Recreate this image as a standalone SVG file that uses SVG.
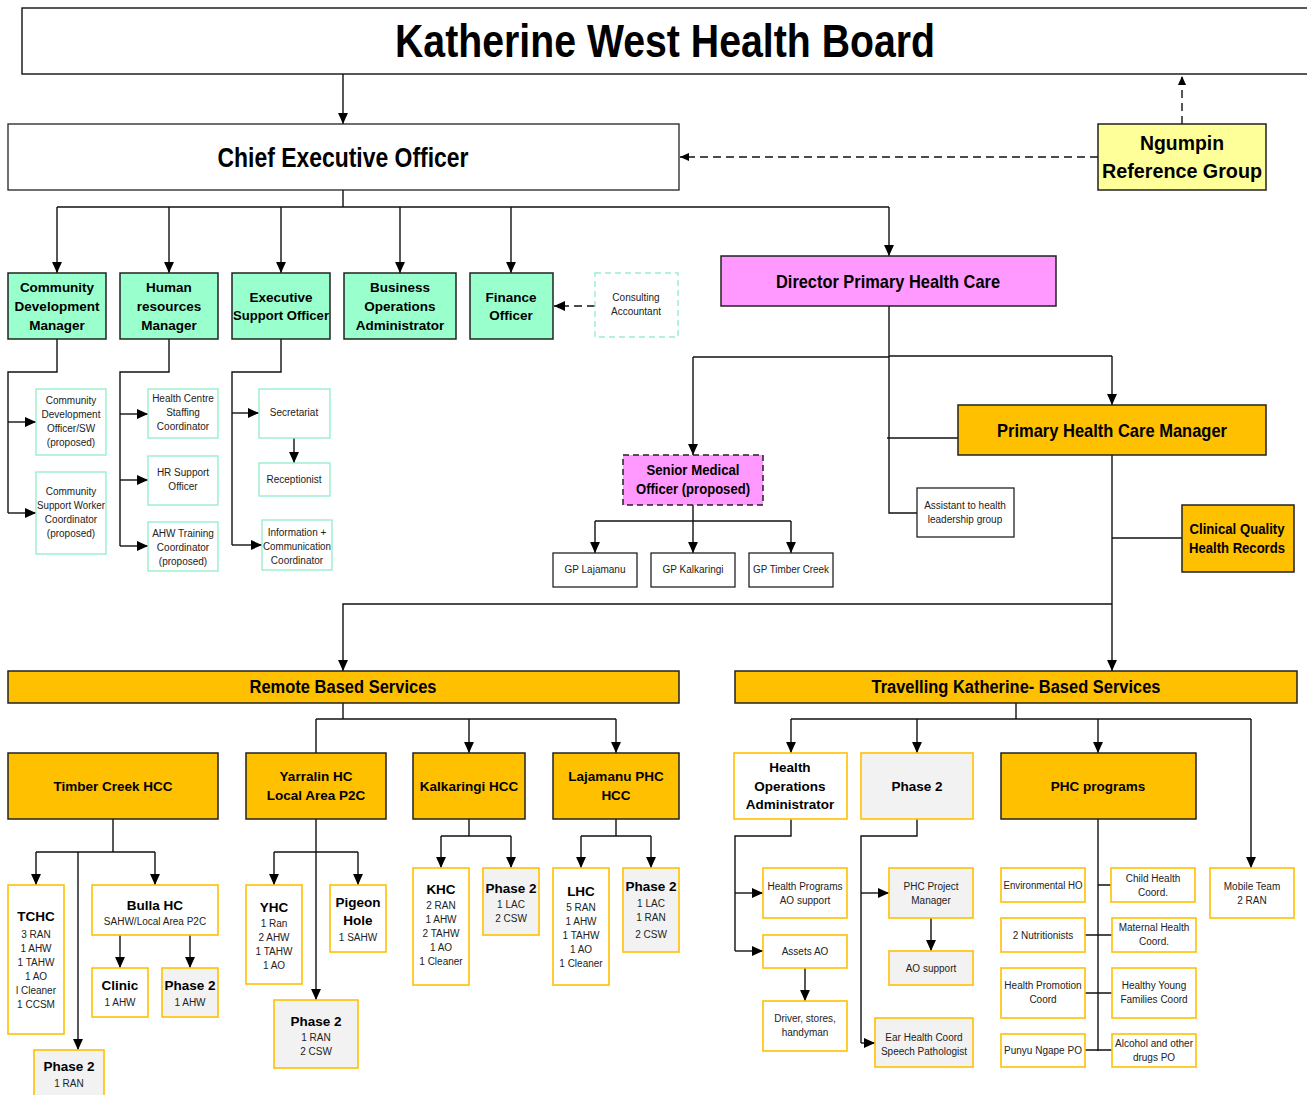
<svg xmlns="http://www.w3.org/2000/svg" width="1307" height="1095" viewBox="0 0 1307 1095">
<style>
.c{fill:none;stroke:#111;stroke-width:1.4}
.d{fill:none;stroke:#111;stroke-width:1.4;stroke-dasharray:8 5}
.ttl{fill:#fff;stroke:#111;stroke-width:1.4}
.g{fill:#99ffcc;stroke:#222;stroke-width:1.5}
.pk{fill:#ff99ff;stroke:#222;stroke-width:1.5}
.pkd{fill:#ff99ff;stroke:#222;stroke-width:1.5;stroke-dasharray:6 4}
.au{fill:#ffc000;stroke:#222;stroke-width:1.5}
.yl{fill:#ffff99;stroke:#222;stroke-width:1.5}
.wb{fill:#fff;stroke:#222;stroke-width:1.3}
.wo{fill:#fff;stroke:#ffc000;stroke-width:1.6}
.go{fill:#f2f2f2;stroke:#ffc000;stroke-width:1.6}
.wg{fill:#fff;stroke:#99eecc;stroke-width:1.4}
.wgd{fill:#fff;stroke:#99eecc;stroke-width:1.4;stroke-dasharray:6 4}
text{font-family:"Liberation Sans",Arial,sans-serif;text-anchor:middle}
.b{font-weight:bold;font-size:13.5px;fill:#000}
.s{font-size:10px;fill:#222}
.h{font-weight:bold;fill:#000}
</style>
<defs>
<marker id="ah" viewBox="0 0 10 10" refX="10" refY="5" markerWidth="11" markerHeight="11" markerUnits="userSpaceOnUse" orient="auto"><path d="M0,0.5 L10,5 L0,9.5 z" fill="#000"/></marker>
<marker id="as" viewBox="0 0 10 10" refX="10" refY="5" markerWidth="9" markerHeight="9" markerUnits="userSpaceOnUse" orient="auto"><path d="M0,0.5 L10,5 L0,9.5 z" fill="#000"/></marker>
</defs>

<g id="connectors">
<path class="c" d="M343,74 V124" marker-end="url(#ah)"/>
<path class="d" d="M1182,124 V76" marker-end="url(#as)"/>
<path class="d" d="M1098,157 H680" marker-end="url(#as)"/>
<path class="c" d="M343,190 V207 M57,207 H889"/>
<path class="c" d="M57,207 V273" marker-end="url(#ah)"/>
<path class="c" d="M169,207 V273" marker-end="url(#ah)"/>
<path class="c" d="M281,207 V273" marker-end="url(#ah)"/>
<path class="c" d="M400,207 V273" marker-end="url(#ah)"/>
<path class="c" d="M511,207 V273" marker-end="url(#ah)"/>
<path class="c" d="M889,207 V256" marker-end="url(#ah)"/>
<path class="d" d="M595,306 H554" marker-end="url(#ah)"/>
<path class="c" d="M57,339 V372 H8 V513"/>
<path class="c" d="M8,422 H36" marker-end="url(#ah)"/>
<path class="c" d="M8,513 H36" marker-end="url(#ah)"/>
<path class="c" d="M169,339 V372 H120 V546"/>
<path class="c" d="M120,414 H148" marker-end="url(#ah)"/>
<path class="c" d="M120,480 H148" marker-end="url(#ah)"/>
<path class="c" d="M120,546 H148" marker-end="url(#ah)"/>
<path class="c" d="M281,339 V372 H232 V545"/>
<path class="c" d="M232,413 H259" marker-end="url(#ah)"/>
<path class="c" d="M232,545 H262" marker-end="url(#ah)"/>
<path class="c" d="M294,438 V463" marker-end="url(#ah)"/>
<path class="c" d="M889,306 V513 H917"/>
<path class="c" d="M693,357 H889 M889,356 H1112"/>
<path class="c" d="M693,357 V455" marker-end="url(#ah)"/>
<path class="c" d="M1112,356 V405" marker-end="url(#ah)"/>
<path class="c" d="M887,438 H958"/>
<path class="c" d="M693,505 V553" marker-end="url(#ah)"/>
<path class="c" d="M595,521 H791"/>
<path class="c" d="M595,521 V553" marker-end="url(#ah)"/>
<path class="c" d="M791,521 V553" marker-end="url(#ah)"/>
<path class="c" d="M1112,455 V671" marker-end="url(#ah)"/>
<path class="c" d="M1112,538 H1182"/>
<path class="c" d="M1112,604 H343 V671" marker-end="url(#ah)"/>
<path class="c" d="M343,703 V719 M316,719 H616 M316,719 V753"/>
<path class="c" d="M469,719 V753" marker-end="url(#ah)"/>
<path class="c" d="M616,719 V753" marker-end="url(#ah)"/>
<path class="c" d="M1016,703 V719 M791,719 H1251"/>
<path class="c" d="M791,719 V753" marker-end="url(#ah)"/>
<path class="c" d="M917,719 V753" marker-end="url(#ah)"/>
<path class="c" d="M1098,719 V753" marker-end="url(#ah)"/>
<path class="c" d="M1251,719 V868" marker-end="url(#ah)"/>
<path class="c" d="M113,819 V852 M36,852 H155"/>
<path class="c" d="M36,852 V885" marker-end="url(#ah)"/>
<path class="c" d="M155,852 V885" marker-end="url(#ah)"/>
<path class="c" d="M78,852 V1050" marker-end="url(#ah)"/>
<path class="c" d="M120,935 V968" marker-end="url(#ah)"/>
<path class="c" d="M190,935 V968" marker-end="url(#ah)"/>
<path class="c" d="M316,819 V852 M274,852 H358"/>
<path class="c" d="M274,852 V885" marker-end="url(#ah)"/>
<path class="c" d="M358,852 V885" marker-end="url(#ah)"/>
<path class="c" d="M316,852 V1000" marker-end="url(#ah)"/>
<path class="c" d="M469,819 V836 M441,836 H511"/>
<path class="c" d="M441,836 V868" marker-end="url(#ah)"/>
<path class="c" d="M511,836 V868" marker-end="url(#ah)"/>
<path class="c" d="M616,819 V836 M581,836 H651"/>
<path class="c" d="M581,836 V868" marker-end="url(#ah)"/>
<path class="c" d="M651,836 V868" marker-end="url(#ah)"/>
<path class="c" d="M791,819 V836 H735 V951"/>
<path class="c" d="M735,893 H763" marker-end="url(#ah)"/>
<path class="c" d="M735,951 H763" marker-end="url(#ah)"/>
<path class="c" d="M805,968 V1001" marker-end="url(#ah)"/>
<path class="c" d="M917,819 V836 H861 V1043"/>
<path class="c" d="M861,893 H889" marker-end="url(#ah)"/>
<path class="c" d="M861,1043 H875" marker-end="url(#ah)"/>
<path class="c" d="M931,918 V951" marker-end="url(#ah)"/>
<path class="c" d="M1098,819 V1051 M1098,885 H1111 M1085,935 H1112 M1085,993 H1112 M1085,1050 H1112"/>
</g>

<g id="board"><rect class="ttl" x="22" y="8" width="1300" height="66"/><text class="h" x="665" y="57" font-size="46" textLength="540" lengthAdjust="spacingAndGlyphs">Katherine West Health Board</text></g>
<g id="ceo"><rect class="wb" x="8" y="124" width="671" height="66"/><text class="h" x="343" y="167" font-size="27" textLength="251" lengthAdjust="spacingAndGlyphs">Chief Executive Officer</text></g>
<g id="ngumpin"><rect class="yl" x="1098" y="124" width="168" height="66"/><text class="h" x="1182" y="150" font-size="21" textLength="84" lengthAdjust="spacingAndGlyphs">Ngumpin</text><text class="h" x="1182" y="178" font-size="21" textLength="160" lengthAdjust="spacingAndGlyphs">Reference Group</text></g>

<g id="cdm"><rect class="g" x="8" y="273" width="98" height="66"/><text class="b" x="57" y="292">Community</text><text class="b" x="57" y="311">Development</text><text class="b" x="57" y="330">Manager</text></g>
<g id="hrm"><rect class="g" x="120" y="273" width="98" height="66"/><text class="b" x="169" y="292">Human</text><text class="b" x="169" y="311">resources</text><text class="b" x="169" y="330">Manager</text></g>
<g id="eso"><rect class="g" x="232" y="273" width="98" height="66"/><text class="b" x="281" y="302">Executive</text><text class="b" x="281" y="320" textLength="96" lengthAdjust="spacingAndGlyphs">Support Officer</text></g>
<g id="boa"><rect class="g" x="344" y="273" width="112" height="66"/><text class="b" x="400" y="292">Business</text><text class="b" x="400" y="311">Operations</text><text class="b" x="400" y="330">Administrator</text></g>
<g id="fo"><rect class="g" x="470" y="273" width="83" height="66"/><text class="b" x="511" y="302">Finance</text><text class="b" x="511" y="320">Officer</text></g>
<g id="consulting"><rect class="wgd" x="595" y="273" width="83" height="64"/><text class="s" x="636" y="301">Consulting</text><text class="s" x="636" y="315">Accountant</text></g>

<g id="cdo"><rect class="wg" x="36" y="389" width="70" height="66"/><text class="s" x="71" y="404">Community</text><text class="s" x="71" y="418">Development</text><text class="s" x="71" y="432">Officer/SW</text><text class="s" x="71" y="446">(proposed)</text></g>
<g id="cswc"><rect class="wg" x="36" y="472" width="70" height="82"/><text class="s" x="71" y="495">Community</text><text class="s" x="71" y="509" textLength="68" lengthAdjust="spacingAndGlyphs">Support Worker</text><text class="s" x="71" y="523">Coordinator</text><text class="s" x="71" y="537">(proposed)</text></g>
<g id="hcsc"><rect class="wg" x="148" y="389" width="70" height="49"/><text class="s" x="183" y="402">Health Centre</text><text class="s" x="183" y="416">Staffing</text><text class="s" x="183" y="430">Coordinator</text></g>
<g id="hrso"><rect class="wg" x="148" y="456" width="70" height="49"/><text class="s" x="183" y="476">HR Support</text><text class="s" x="183" y="490">Officer</text></g>
<g id="ahwtc"><rect class="wg" x="148" y="522" width="70" height="49"/><text class="s" x="183" y="537">AHW Training</text><text class="s" x="183" y="551">Coordinator</text><text class="s" x="183" y="565">(proposed)</text></g>
<g id="secretariat"><rect class="wg" x="259" y="389" width="71" height="49"/><text class="s" x="294" y="416">Secretariat</text></g>
<g id="receptionist"><rect class="wg" x="259" y="463" width="71" height="33"/><text class="s" x="294" y="483">Receptionist</text></g>
<g id="icc"><rect class="wg" x="262" y="520" width="70" height="50"/><text class="s" x="297" y="536">Information +</text><text class="s" x="297" y="550" textLength="68" lengthAdjust="spacingAndGlyphs">Communication</text><text class="s" x="297" y="564">Coordinator</text></g>

<g id="dphc"><rect class="pk" x="721" y="256" width="335" height="50"/><text class="h" x="888" y="288" font-size="19" textLength="224" lengthAdjust="spacingAndGlyphs">Director Primary Health Care</text></g>
<g id="smo"><rect class="pkd" x="623" y="455" width="140" height="50"/><text class="h" x="693" y="475" font-size="15" textLength="93" lengthAdjust="spacingAndGlyphs">Senior Medical</text><text class="h" x="693" y="494" font-size="15" textLength="114" lengthAdjust="spacingAndGlyphs">Officer (proposed)</text></g>
<g id="gp-lajamanu"><rect class="wb" x="553" y="553" width="84" height="34"/><text class="s" x="595" y="573">GP Lajamanu</text></g>
<g id="gp-kalkaringi"><rect class="wb" x="651" y="553" width="84" height="34"/><text class="s" x="693" y="573">GP Kalkaringi</text></g>
<g id="gp-timber"><rect class="wb" x="749" y="553" width="84" height="34"/><text class="s" x="791" y="573" textLength="76" lengthAdjust="spacingAndGlyphs">GP Timber Creek</text></g>
<g id="assistant"><rect class="wb" x="917" y="488" width="97" height="49"/><text class="s" x="965" y="509">Assistant to health</text><text class="s" x="965" y="523">leadership group</text></g>
<g id="phcm"><rect class="au" x="958" y="405" width="308" height="50"/><text class="h" x="1112" y="437" font-size="19" textLength="230" lengthAdjust="spacingAndGlyphs">Primary Health Care Manager</text></g>
<g id="cqhr"><rect class="au" x="1182" y="505" width="112" height="67"/><text class="h" x="1237" y="534" font-size="15" textLength="95" lengthAdjust="spacingAndGlyphs">Clinical Quality</text><text class="h" x="1237" y="553" font-size="15" textLength="96" lengthAdjust="spacingAndGlyphs">Health Records</text></g>

<g id="remote"><rect class="au" x="8" y="671" width="671" height="32"/><text class="h" x="343" y="693" font-size="18" textLength="187" lengthAdjust="spacingAndGlyphs">Remote Based Services</text></g>
<g id="travelling"><rect class="au" x="735" y="671" width="562" height="32"/><text class="h" x="1016" y="693" font-size="18" textLength="289" lengthAdjust="spacingAndGlyphs">Travelling Katherine- Based Services</text></g>

<g id="timber-creek"><rect class="au" x="8" y="753" width="210" height="66"/><text class="b" x="113" y="791">Timber Creek HCC</text></g>
<g id="yarralin"><rect class="au" x="246" y="753" width="140" height="66"/><text class="b" x="316" y="781">Yarralin HC</text><text class="b" x="316" y="800">Local Area P2C</text></g>
<g id="kalkaringi"><rect class="au" x="413" y="753" width="112" height="66"/><text class="b" x="469" y="791">Kalkaringi HCC</text></g>
<g id="lajamanu"><rect class="au" x="553" y="753" width="126" height="66"/><text class="b" x="616" y="781">Lajamanu PHC</text><text class="b" x="616" y="800">HCC</text></g>
<g id="hoa"><rect class="wo" x="734" y="753" width="113" height="66"/><text class="b" x="790" y="772">Health</text><text class="b" x="790" y="791">Operations</text><text class="b" x="790" y="809">Administrator</text></g>
<g id="phase2-t"><rect class="go" x="861" y="753" width="112" height="66"/><text class="b" x="917" y="791">Phase 2</text></g>
<g id="phc-programs"><rect class="au" x="1001" y="753" width="195" height="66"/><text class="b" x="1098" y="791">PHC programs</text></g>

<g id="tchc"><rect class="wo" x="8" y="885" width="56" height="149"/><text class="b" x="36" y="921">TCHC</text><text class="s" x="36" y="937.5">3 RAN</text><text class="s" x="36" y="951.5">1 AHW</text><text class="s" x="36" y="965.5">1 TAHW</text><text class="s" x="36" y="979.5">1 AO</text><text class="s" x="36" y="993.5">l Cleaner</text><text class="s" x="36" y="1007.5">1 CCSM</text></g>
<g id="bulla"><rect class="wo" x="92" y="885" width="126" height="50"/><text class="b" x="155" y="910">Bulla HC</text><text class="s" x="155" y="924.5">SAHW/Local Area P2C</text></g>
<g id="clinic"><rect class="wo" x="92" y="968" width="56" height="49"/><text class="b" x="120" y="990">Clinic</text><text class="s" x="120" y="1005.5">1 AHW</text></g>
<g id="phase2-bulla"><rect class="go" x="162" y="968" width="56" height="49"/><text class="b" x="190" y="990">Phase 2</text><text class="s" x="190" y="1005.5">1 AHW</text></g>
<g id="phase2-tc"><rect class="go" x="34" y="1050" width="70" height="60"/><text class="b" x="69" y="1071">Phase 2</text><text class="s" x="69" y="1086.5">1 RAN</text></g>
<g id="yhc"><rect class="wo" x="246" y="885" width="56" height="99"/><text class="b" x="274" y="912">YHC</text><text class="s" x="274" y="926.5">1 Ran</text><text class="s" x="274" y="940.5">2 AHW</text><text class="s" x="274" y="954.5">1 TAHW</text><text class="s" x="274" y="968.5">1 AO</text></g>
<g id="pigeon-hole"><rect class="wo" x="330" y="885" width="56" height="67"/><text class="b" x="358" y="907">Pigeon</text><text class="b" x="358" y="925">Hole</text><text class="s" x="358" y="940.5">1 SAHW</text></g>
<g id="phase2-y"><rect class="go" x="274" y="1000" width="84" height="68"/><text class="b" x="316" y="1026">Phase 2</text><text class="s" x="316" y="1040.5">1 RAN</text><text class="s" x="316" y="1054.5">2 CSW</text></g>
<g id="khc"><rect class="wo" x="413" y="868" width="56" height="117"/><text class="b" x="441" y="894">KHC</text><text class="s" x="441" y="908.5">2 RAN</text><text class="s" x="441" y="922.5">1 AHW</text><text class="s" x="441" y="936.5">2 TAHW</text><text class="s" x="441" y="950.5">1 AO</text><text class="s" x="441" y="964.5">1 Cleaner</text></g>
<g id="phase2-k"><rect class="go" x="483" y="868" width="56" height="67"/><text class="b" x="511" y="893">Phase 2</text><text class="s" x="511" y="907.5">1 LAC</text><text class="s" x="511" y="921.5">2 CSW</text></g>
<g id="lhc"><rect class="wo" x="553" y="868" width="56" height="117"/><text class="b" x="581" y="896">LHC</text><text class="s" x="581" y="910.5">5 RAN</text><text class="s" x="581" y="924.5">1 AHW</text><text class="s" x="581" y="938.5">1 TAHW</text><text class="s" x="581" y="952.5">1 AO</text><text class="s" x="581" y="966.5">1 Cleaner</text></g>
<g id="phase2-l"><rect class="go" x="623" y="868" width="56" height="84"/><text class="b" x="651" y="891">Phase 2</text><text class="s" x="651" y="906.5">1 LAC</text><text class="s" x="651" y="920.5">1 RAN</text><text class="s" x="651" y="937.5">2 CSW</text></g>

<g id="hp-ao"><rect class="wo" x="763" y="868" width="84" height="50"/><text class="s" x="805" y="889.5">Health Programs</text><text class="s" x="805" y="903.5">AO support</text></g>
<g id="assets-ao"><rect class="wo" x="763" y="935" width="84" height="33"/><text class="s" x="805" y="954.5">Assets AO</text></g>
<g id="driver"><rect class="wo" x="763" y="1001" width="84" height="50"/><text class="s" x="805" y="1021.5">Driver, stores,</text><text class="s" x="805" y="1035.5">handyman</text></g>
<g id="phc-pm"><rect class="go" x="889" y="868" width="84" height="50"/><text class="s" x="931" y="889.5">PHC Project</text><text class="s" x="931" y="903.5">Manager</text></g>
<g id="ao-support"><rect class="go" x="889" y="951" width="84" height="34"/><text class="s" x="931" y="971.5">AO support</text></g>
<g id="ear-health"><rect class="go" x="875" y="1018" width="98" height="49"/><text class="s" x="924" y="1040.5">Ear Health Coord</text><text class="s" x="924" y="1054.5">Speech Pathologist</text></g>

<g id="env-ho"><rect class="wo" x="1001" y="868" width="84" height="34"/><text class="s" x="1043" y="888.5" textLength="79" lengthAdjust="spacingAndGlyphs">Environmental HO</text></g>
<g id="nutritionists"><rect class="wo" x="1001" y="918" width="84" height="34"/><text class="s" x="1043" y="938.5">2 Nutritionists</text></g>
<g id="health-promotion"><rect class="wo" x="1001" y="968" width="84" height="50"/><text class="s" x="1043" y="988.5">Health Promotion</text><text class="s" x="1043" y="1002.5">Coord</text></g>
<g id="punyu"><rect class="wo" x="1001" y="1034" width="84" height="33"/><text class="s" x="1043" y="1053.5">Punyu Ngape PO</text></g>
<g id="child-health"><rect class="wo" x="1111" y="868" width="84" height="34"/><text class="s" x="1153" y="881.5">Child Health</text><text class="s" x="1153" y="895.5">Coord.</text></g>
<g id="maternal-health"><rect class="wo" x="1112" y="918" width="84" height="34"/><text class="s" x="1154" y="930.5">Maternal Health</text><text class="s" x="1154" y="944.5">Coord.</text></g>
<g id="hyf"><rect class="wo" x="1112" y="968" width="84" height="50"/><text class="s" x="1154" y="988.5">Healthy Young</text><text class="s" x="1154" y="1002.5">Families Coord</text></g>
<g id="alcohol"><rect class="wo" x="1112" y="1034" width="84" height="33"/><text class="s" x="1154" y="1046.5" textLength="78" lengthAdjust="spacingAndGlyphs">Alcohol and other</text><text class="s" x="1154" y="1060.5">drugs PO</text></g>
<g id="mobile-team"><rect class="wo" x="1210" y="868" width="84" height="50"/><text class="s" x="1252" y="889.5">Mobile Team</text><text class="s" x="1252" y="903.5">2 RAN</text></g>
</svg>
